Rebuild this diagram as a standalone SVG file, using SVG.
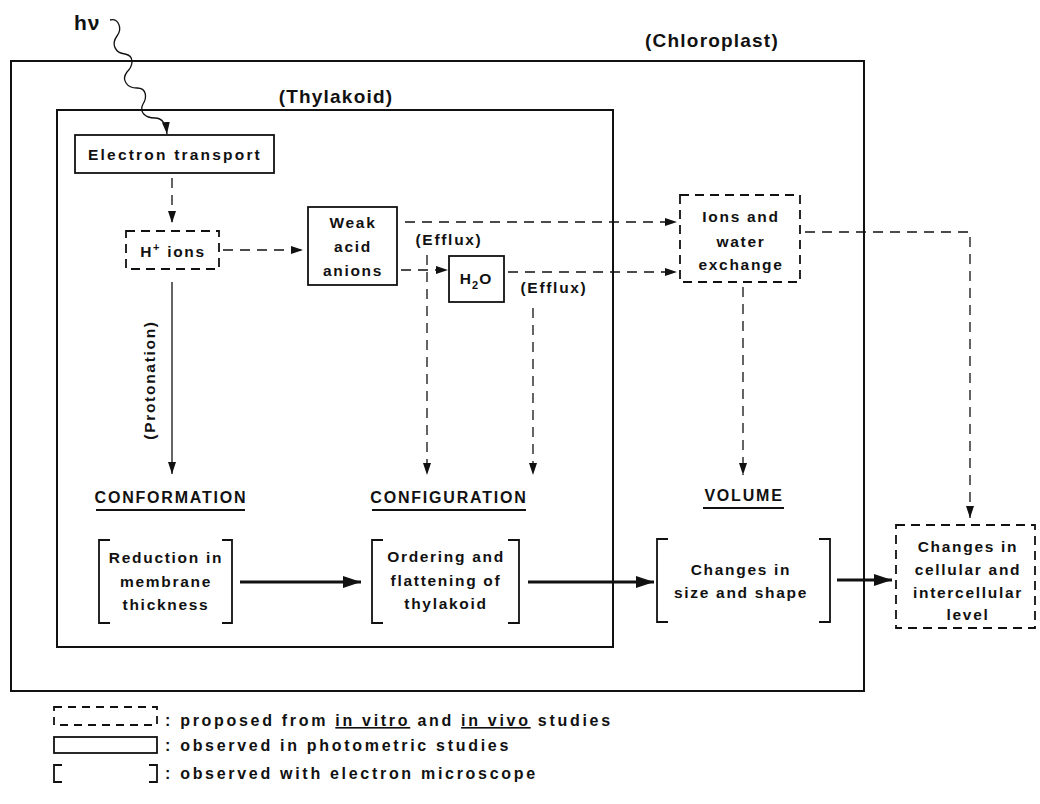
<svg xmlns="http://www.w3.org/2000/svg" width="1040" height="804" viewBox="0 0 1040 804">
<style>
text{font-family:"Liberation Sans",Arial,sans-serif;font-weight:bold;fill:#111;letter-spacing:1.7px}
.t{font-size:15.5px;text-anchor:middle}
.big{font-size:19px;text-anchor:middle;letter-spacing:1.2px}
.hd{font-size:16px;text-anchor:middle;letter-spacing:1.8px}
.lg{font-size:16px;letter-spacing:2.7px}
.solid{fill:none;stroke:#111;stroke-width:1.8}
.dash{fill:none;stroke:#111;stroke-width:1.8;stroke-dasharray:9 6}
.frame{fill:none;stroke:#111;stroke-width:2}
.c{fill:none;stroke:#111;stroke-width:1.3}
.cd{fill:none;stroke:#111;stroke-width:1.3;stroke-dasharray:10 7}
.thick{fill:none;stroke:#111;stroke-width:3.2}
.ul{stroke:#111;stroke-width:2}
</style>
<defs>
<marker id="ah" viewBox="0 0 12 8" refX="12" refY="4" markerWidth="12" markerHeight="8" markerUnits="userSpaceOnUse" orient="auto">
<path d="M0,0 L12,4 L0,8 Z" fill="#111"/>
</marker>
<marker id="ahb" viewBox="0 0 18 12" refX="18" refY="6" markerWidth="18" markerHeight="12" markerUnits="userSpaceOnUse" orient="auto">
<path d="M0,0 L18,6 L0,12 Z" fill="#111"/>
</marker>
</defs>

<g id="chloroplast">
<rect class="frame" x="11" y="61" width="853" height="630"/>
<text class="big" x="712" y="47">(Chloroplast)</text>
</g>
<g id="thylakoid">
<rect class="frame" x="57" y="110" width="556" height="537"/>
<text class="big" x="336" y="103">(Thylakoid)</text>
</g>

<g id="hv">
<text x="74" y="30" style="font-size:21px;letter-spacing:1px">hν</text>
</g>

<g id="electron-transport">
<rect class="solid" x="75" y="135" width="199" height="38"/>
<text class="t" x="175" y="160" style="letter-spacing:2.2px">Electron transport</text>
</g>
<g id="h-ions">
<rect class="dash" x="126" y="231" width="93" height="38"/>
<text class="t" x="173" y="257">H<tspan dy="-6" font-size="11">+</tspan><tspan dy="6"> ions</tspan></text>
</g>
<g id="weak-acid">
<rect class="solid" x="308" y="207" width="89" height="78"/>
<text class="t" x="353" y="228">Weak</text>
<text class="t" x="353" y="252">acid</text>
<text class="t" x="353" y="276">anions</text>
</g>
<g id="h2o">
<rect class="solid" x="449" y="256" width="55" height="46"/>
<text class="t" x="476" y="284" style="letter-spacing:1px">H<tspan dy="5" font-size="11">2</tspan><tspan dy="-5">O</tspan></text>
</g>
<g id="ions-water">
<rect class="dash" x="680" y="195" width="120" height="87"/>
<text class="t" x="741" y="222">Ions and</text>
<text class="t" x="741" y="247">water</text>
<text class="t" x="741" y="270">exchange</text>
</g>
<g id="efflux-labels">
<text class="t" x="449" y="245">(Efflux)</text>
<text class="t" x="554" y="293">(Efflux)</text>
<text class="t" transform="translate(155,380) rotate(-90)">(Protonation)</text>
</g>

<g id="headings">
<text class="hd" x="171" y="503">CONFORMATION</text>
<line class="ul" x1="96" y1="510" x2="245" y2="510"/>
<text class="hd" x="449" y="503">CONFIGURATION</text>
<line class="ul" x1="372" y1="510" x2="526" y2="510"/>
<text class="hd" x="744" y="501">VOLUME</text>
<line class="ul" x1="703" y1="508" x2="784" y2="508"/>
</g>

<g id="reduction">
<path class="solid" d="M110,540 H99 V623 H110 M222,540 H232 V623 H222"/>
<text class="t" x="166" y="563">Reduction in</text>
<text class="t" x="166" y="587">membrane</text>
<text class="t" x="166" y="610">thickness</text>
</g>
<g id="ordering">
<path class="solid" d="M383,540 H372 V623 H383 M508,540 H519 V623 H508"/>
<text class="t" x="446" y="562">Ordering and</text>
<text class="t" x="446" y="586">flattening of</text>
<text class="t" x="446" y="609">thylakoid</text>
</g>
<g id="changes-size">
<path class="solid" d="M668,539 H657 V622 H668 M819,539 H830 V622 H819"/>
<text class="t" x="741" y="575">Changes in</text>
<text class="t" x="741" y="598">size and shape</text>
</g>
<g id="changes-cellular">
<rect class="dash" x="896" y="525" width="139" height="103"/>
<text class="t" x="968" y="552">Changes in</text>
<text class="t" x="968" y="575">cellular and</text>
<text class="t" x="968" y="598">intercellular</text>
<text class="t" x="968" y="620">level</text>
</g>

<g id="connectors">
<path class="c" marker-end="url(#ah)" d="M110,20 C118,18 123,28 117,36 C111,44 115,53 125,54 C135,56 133,66 127,72 C121,80 127,88 137,88 C147,88 147,98 143,104 C139,112 145,118 155,118 C163,118 166,124 167,134"/>
<path class="cd" marker-end="url(#ah)" d="M172,178 V223"/>
<path class="cd" marker-end="url(#ah)" d="M223,250 H303"/>
<path class="c" marker-end="url(#ah)" d="M172,282 V474"/>
<path class="cd" marker-end="url(#ah)" d="M405,222 H677"/>
<path class="cd" marker-end="url(#ah)" d="M401,270 H448"/>
<path class="cd" marker-end="url(#ah)" d="M427,255 V475"/>
<path class="cd" marker-end="url(#ah)" d="M508,272 H677"/>
<path class="cd" marker-end="url(#ah)" d="M533,308 V475"/>
<path class="cd" marker-end="url(#ah)" d="M743,287 V475"/>
<path class="cd" marker-end="url(#ah)" d="M805,232 H970 V518"/>
<path class="thick" marker-end="url(#ahb)" d="M240,582 H361"/>
<path class="thick" marker-end="url(#ahb)" d="M528,582 H654"/>
<path class="thick" marker-end="url(#ahb)" d="M837,580 H892"/>
</g>

<g id="legend">
<rect class="dash" x="54" y="707" width="103" height="18" style="stroke-dasharray:8 6"/>
<text class="lg" x="165" y="726">: proposed from <tspan text-decoration="underline">in vitro</tspan> and <tspan text-decoration="underline">in vivo</tspan> studies</text>
<rect class="solid" x="54" y="737" width="103" height="16"/>
<text class="lg" x="165" y="751">: observed in photometric studies</text>
<path class="solid" d="M62,765 H54 V782 H62 M149,765 H157 V782 H149"/>
<text class="lg" x="165" y="779">: observed with electron microscope</text>
</g>
</svg>
